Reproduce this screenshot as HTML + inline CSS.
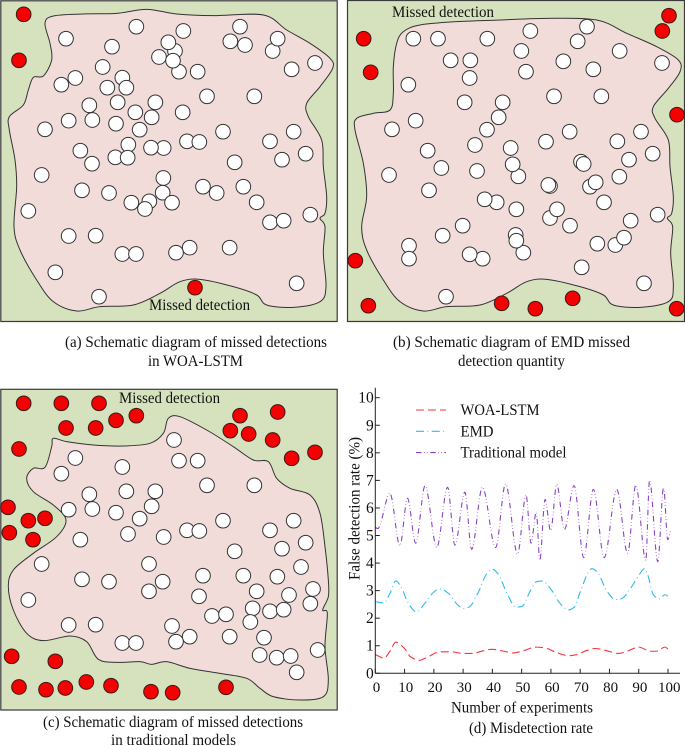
<!DOCTYPE html>
<html>
<head>
<meta charset="utf-8">
<title>Missed detection schematics and misdetection rate</title>
<style>
html,body{margin:0;padding:0;background:#fff;}
svg{display:block;}
text{font-family:"Liberation Serif","Times New Roman",serif;fill:#111;}
</style>
</head>
<body>
<svg id="fig" width="685" height="746" viewBox="0 0 685 746" xmlns="http://www.w3.org/2000/svg">
  <g id="panel-a"></g>
  <g id="panel-b"></g>
  <g id="panel-c"></g>
  <g id="panel-d"></g>
  <text x="149" y="310" font-size="15.5" textLength="101" lengthAdjust="spacingAndGlyphs">Missed detection</text>
  <text x="392" y="17" font-size="15.5" textLength="102" lengthAdjust="spacingAndGlyphs">Missed detection</text>
  <text x="119" y="403" font-size="15.5" textLength="101" lengthAdjust="spacingAndGlyphs">Missed detection</text>
  <text x="65" y="347" font-size="15.5" textLength="262" lengthAdjust="spacingAndGlyphs">(a) Schematic diagram of missed detections</text>
  <text x="148" y="366" font-size="15.5" textLength="95" lengthAdjust="spacingAndGlyphs">in WOA-LSTM</text>
  <text x="393" y="347" font-size="15.5" textLength="237" lengthAdjust="spacingAndGlyphs">(b) Schematic diagram of EMD missed</text>
  <text x="458" y="366" font-size="15.5" textLength="107" lengthAdjust="spacingAndGlyphs">detection quantity</text>
  <text x="43" y="727" font-size="15.5" textLength="260" lengthAdjust="spacingAndGlyphs">(c) Schematic diagram of missed detections</text>
  <text x="111" y="745" font-size="15.5" textLength="125" lengthAdjust="spacingAndGlyphs">in traditional models</text>
  <text x="469" y="733" font-size="15.5" textLength="124" lengthAdjust="spacingAndGlyphs">(d) Misdetection rate</text>
  <text x="451" y="712.5" font-size="15.5" textLength="142" lengthAdjust="spacingAndGlyphs">Number of experiments</text>
  <text transform="translate(359.5,580) rotate(-90)" font-size="15.5" textLength="143" lengthAdjust="spacingAndGlyphs">False detection rate (%)</text>
</svg>
<script>
// Schematic data, in schematic units (3 units = 1 px of the figure)
const whitesA = [[409,80],[550,93],[720,80],[198,116],[336,140],[525,153],[505,127],[691,124],[735,135],[818,153],[833,116],[477,171],[537,215],[519,182],[593,215],[875,208],[945,189],[308,201],[367,233],[226,234],[184,254],[322,263],[379,263],[621,289],[763,289],[268,316],[353,307],[466,307],[406,337],[548,337],[455,352],[277,360],[206,362],[348,371],[135,388],[419,389],[669,395],[881,395],[810,424],[561,424],[598,426],[385,434],[491,444],[453,443],[241,452],[917,461],[346,472],[383,473],[846,479],[704,487],[276,491],[125,525],[490,534],[609,560],[730,560],[246,571],[650,579],[327,579],[488,578],[448,604],[394,608],[516,608],[770,607],[435,627],[85,633],[931,644],[810,667],[851,662],[206,708],[287,707],[569,743],[689,743],[528,758],[367,762],[408,762],[166,817],[890,850],[297,890]];
const redsA = [[71,43],[57,181],[585,863]];
const outlineA = [[135,70],[160,48],[250,42],[350,40],[440,28],[530,42],[640,47],[790,45],[860,90],[930,130],[990,175],[998,205],[960,260],[920,310],[925,350],[965,420],[970,500],[980,590],[975,640],[960,655],[975,680],[970,760],[978,860],[960,905],[880,922],[800,915],[770,885],[700,860],[600,838],[540,845],[480,880],[400,915],[300,920],[230,933],[160,905],[110,840],[60,750],[42,680],[50,560],[45,480],[28,390],[28,350],[70,315],[85,270],[100,232],[130,228],[155,180],[150,130]];

const whitesB = [[220,116],[294,116],[442,116],[571,93],[741,80],[713,124],[544,153],[839,153],[332,181],[391,181],[670,184],[966,189],[760,208],[558,215],[389,234],[205,254],[642,289],[784,289],[374,307],[488,307],[476,352],[227,362],[156,388],[441,389],[689,395],[903,395],[618,425],[832,424],[405,435],[512,444],[263,452],[938,461],[867,479],[723,485],[731,492],[535,529],[518,493],[304,504],[147,525],[411,513],[838,530],[630,558],[625,555],[750,560],[767,547],[267,571],[470,607],[434,598],[792,607],[529,628],[630,654],[651,628],[953,644],[872,662],[690,677],[368,677],[308,707],[826,735],[852,713],[772,731],[550,758],[527,705],[529,722],[207,737],[207,776],[428,776],[389,763],[725,802],[912,850],[318,890]];
const redsB = [[987,47],[967,93],[71,116],[92,217],[1011,344],[46,782],[85,917],[485,910],[586,926],[698,895],[1010,926]];
const outlineB = [[170,130],[190,95],[240,75],[350,65],[480,60],[620,55],[770,60],[860,100],[950,140],[1015,180],[1020,215],[985,265],[940,320],[945,355],[985,420],[990,500],[1000,590],[995,640],[982,655],[998,680],[992,760],[1000,860],[985,905],[900,922],[820,915],[790,885],[720,860],[620,838],[560,845],[500,880],[420,915],[320,920],[250,933],[180,905],[130,840],[80,750],[65,680],[80,590],[70,490],[45,390],[50,355],[100,340],[150,330],[160,280],[160,200]];

const whitesC = [[522,180],[537,242],[593,242],[226,234],[184,281],[367,261],[621,316],[763,316],[268,343],[379,334],[466,334],[455,379],[277,387],[206,389],[348,398],[419,416],[669,422],[881,422],[810,451],[561,451],[598,453],[384,462],[491,471],[241,479],[917,488],[846,506],[704,514],[125,552],[447,552],[903,561],[609,587],[730,587],[832,590],[246,598],[327,605],[488,605],[447,634],[770,634],[939,627],[867,645],[597,649],[85,660],[931,671],[758,685],[810,694],[851,689],[636,708],[678,703],[751,726],[206,735],[287,734],[516,738],[569,770],[689,770],[792,773],[528,785],[367,789],[408,789],[953,810],[779,825],[830,833],[872,828],[890,877]];
const redsC = [[71,70],[184,70],[297,70],[409,107],[348,121],[287,144],[198,144],[720,107],[833,96],[691,152],[746,162],[818,180],[875,235],[945,217],[57,207],[24,382],[85,422],[135,415],[28,458],[99,479],[35,829],[166,844],[57,921],[138,929],[196,924],[259,906],[333,917],[453,935],[518,938],[678,922]];
const outlineC = [[160,175],[200,185],[280,195],[370,198],[450,190],[490,160],[505,115],[540,110],[620,150],[700,200],[760,240],[805,245],[830,295],[870,325],[930,345],[960,400],[975,500],[985,600],[985,650],[968,690],[982,700],[975,800],[985,900],[970,950],[900,960],[820,950],[780,925],[740,895],[660,880],[570,865],[500,845],[455,853],[420,845],[350,847],[295,838],[260,785],[210,768],[130,782],[80,760],[40,690],[25,620],[40,570],[100,520],[170,470],[198,420],[160,375],[100,335],[80,295],[100,265],[135,262],[155,200]];

// Chart (d) data
const xTickLabels = [0,10,20,30,40,50,60,70,80,90,100];
const yTickLabels = [0,1,2,3,4,5,6,7,8,9,10];
const woaX = [0,3,5,7,10,12,15,18,22,26,30,33,37,40,44,47,50,55,58,62,66,69,72,75,79,83,86,90,94,96,99,100];
const woaY = [0.68,0.55,0.8,1.13,0.9,0.6,0.47,0.6,0.78,0.78,0.72,0.72,0.82,0.87,0.8,0.74,0.8,0.95,0.92,0.75,0.64,0.68,0.82,0.9,0.82,0.72,0.8,0.95,0.8,0.8,0.95,0.88];
const emdX = [0,3,5,7,9,11,14,17,20,22,25,28,30,32,35,38,40,42,45,48,50,53,55,57,60,63,66,68,70,73,74,76,79,82,84,87,90,92,93,95,97,99,100];
const emdY = [2.6,2.55,2.9,3.35,3.1,2.6,2.23,2.55,2.95,3.07,2.9,2.5,2.35,2.4,2.9,3.6,3.78,3.6,2.9,2.4,2.42,3,3.32,3.35,3.05,2.55,2.3,2.4,2.95,3.7,3.8,3.65,3,2.68,2.7,3.05,3.55,3.8,3.6,2.85,2.7,2.85,2.8];
const tradX = [0,0.8,5,8.4,11,13.8,17,21,24.7,27.2,30.6,32.9,36.6,41.1,44.5,48.6,51.5,53.2,55,56.2,58,59.9,62,64.6,67.9,71.2,74.5,78.2,82.5,86.2,89,92.4,93.7,96.5,98.5,99.9,100.9];
const tradY = [5.3,5.25,6.53,4.63,6.35,4.72,6.8,4.57,6.75,4.65,6.57,4.5,6.75,4.56,6.87,4.33,6.47,4.72,5.84,4.1,6.31,5.18,6.85,5.22,6.81,4.2,6.67,4.2,6.67,4.35,6.83,4.1,7.0,4.05,6.75,4.85,5.17];
const legendLabels = ["WOA-LSTM","EMD","Traditional model"];

const NS = "http://www.w3.org/2000/svg";
function mk(parent, tag, attrs){
  const el = document.createElementNS(NS, tag);
  for (const k in attrs) el.setAttribute(k, attrs[k]);
  parent.appendChild(el);
  return el;
}
function closedSpline(pts){
  const n = pts.length;
  let d = "M" + pts[0][0] + " " + pts[0][1];
  for (let i = 0; i < n; i++){
    const p0 = pts[(i-1+n)%n], p1 = pts[i], p2 = pts[(i+1)%n], p3 = pts[(i+2)%n];
    const c1x = p1[0]+(p2[0]-p0[0])/6, c1y = p1[1]+(p2[1]-p0[1])/6;
    const c2x = p2[0]-(p3[0]-p1[0])/6, c2y = p2[1]-(p3[1]-p1[1])/6;
    d += " C"+c1x.toFixed(2)+" "+c1y.toFixed(2)+" "+c2x.toFixed(2)+" "+c2y.toFixed(2)+" "+p2[0]+" "+p2[1];
  }
  return d + "Z";
}
function drawPanel(id, rx, ry, rw, rh, ox, oy, outline, whites, reds){
  const g = document.getElementById(id);
  const bg = mk(g, "rect", {x:rx, y:ry, width:rw, height:rh, fill:"#d6e2be", stroke:"#3a3a3a", "stroke-width":1.2});
  
  
  const inner = mk(g, "g", {transform:"translate("+ox+" "+oy+") scale("+(1/3)+")"});
  const blob = mk(inner, "path", {d:closedSpline(outline), fill:"#f2dcda", stroke:"#333", "stroke-width":3});
  
  
  whites.forEach(function(p){
    const c = mk(inner, "circle", {cx:p[0], cy:p[1], r:22, fill:"#fff", stroke:"#333", "stroke-width":3});
    
    
  });
  reds.forEach(function(p){
    const c = mk(inner, "circle", {cx:p[0], cy:p[1], r:22, fill:"#f50000", stroke:"#3a1a1a", "stroke-width":3});
    
    
  });
}
drawPanel("panel-a", 0.8, 0.8, 336.4, 320.7, 0, 0, outlineA, whitesA, redsA);
drawPanel("panel-b", 347.5, 0.5, 337, 321, 340, 0, outlineB, whitesB, redsB);
drawPanel("panel-c", 0.8, 389.3, 336.4, 320.7, 0, 380, outlineC, whitesC, redsC);

// Chart (d)
const d = document.getElementById("panel-d");
const sx = v => 375.3 + v * 2.927;
const sy = v => 673.3 - v * 27.56;
const axisRight = 680, axisTop = 387.7;

function monotonePath(xs, ys){
  const n = xs.length, px = xs.map(sx), py = ys.map(sy), m = [];
  const s = [];
  for (let i = 0; i < n-1; i++) s.push((py[i+1]-py[i])/(px[i+1]-px[i]));
  m[0] = s[0]; m[n-1] = s[n-2];
  for (let i = 1; i < n-1; i++) m[i] = s[i-1]*s[i] <= 0 ? 0 : 2*s[i-1]*s[i]/(s[i-1]+s[i]);
  let out = "M"+px[0].toFixed(2)+" "+py[0].toFixed(2);
  for (let i = 0; i < n-1; i++){
    const h = (px[i+1]-px[i])/3;
    out += " C"+(px[i]+h).toFixed(2)+" "+(py[i]+m[i]*h).toFixed(2)+" "+(px[i+1]-h).toFixed(2)+" "+(py[i+1]-m[i+1]*h).toFixed(2)+" "+px[i+1].toFixed(2)+" "+py[i+1].toFixed(2);
  }
  return out;
}
const woaStyle = {stroke:"#f4333c", "stroke-width":1.1, "stroke-dasharray":"8 4", fill:"none"};
const emdStyle = {stroke:"#2fb9ee", "stroke-width":1.1, "stroke-dasharray":"8 3.5 0.8 3.5", fill:"none"};
const tradStyle = {stroke:"#8a45c4", "stroke-width":1.1, "stroke-dasharray":"5.5 2.5 0.6 2.5 0.6 2.5", fill:"none"};

const lineW = mk(d, "path", Object.assign({d:monotonePath(woaX, woaY)}, woaStyle));


const lineE = mk(d, "path", Object.assign({d:monotonePath(emdX, emdY)}, emdStyle));


const lineT = mk(d, "path", Object.assign({d:monotonePath(tradX, tradY)}, tradStyle));



const xAxis = mk(d, "line", {x1:sx(0), y1:sy(0), x2:axisRight, y2:sy(0), stroke:"#222", "stroke-width":1});


const yAxis = mk(d, "line", {x1:sx(0), y1:sy(0), x2:sx(0), y2:axisTop, stroke:"#222", "stroke-width":1});



xTickLabels.forEach(function(v){
  const t = mk(d, "line", {x1:sx(v), y1:sy(0), x2:sx(v), y2:sy(0)-4.5, stroke:"#222", "stroke-width":1});
  
  
  const l = mk(d, "text", {x:sx(v)+1.2, y:692, "font-size":15, "text-anchor":"middle"});
  l.textContent = v;
  
  
});
yTickLabels.forEach(function(v){
  const t = mk(d, "line", {x1:sx(0), y1:sy(v), x2:sx(0)+4.5, y2:sy(v), stroke:"#222", "stroke-width":1});
  
  
  const l = mk(d, "text", {x:sx(0)-1.5, y:sy(v)+5, "font-size":15.5, "text-anchor":"end"});
  l.textContent = v;
  
  
});

const legendStyles = [woaStyle, emdStyle, tradStyle];
const legendWidths = [79, 33, 106];
legendLabels.forEach(function(name, i){
  const y = 410 + i * 21.3;
  const s = mk(d, "line", Object.assign({x1:416, y1:y, x2:446, y2:y}, legendStyles[i]));
  
  
  const l = mk(d, "text", {x:460.5, y:y+5, "font-size":15.5, textLength:legendWidths[i], lengthAdjust:"spacingAndGlyphs"});
  l.textContent = name;
  
  
});
</script>
</body>
</html>
